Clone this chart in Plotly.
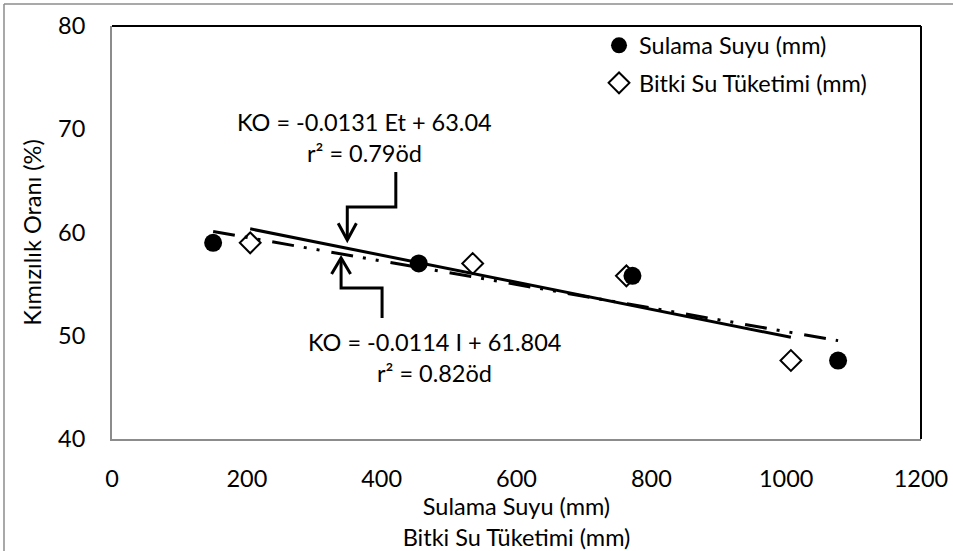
import plotly.graph_objects as go

# ---- data ----
sulama_x = [150, 455, 772, 1077]
sulama_y = [59.0, 57.0, 55.8, 47.6]
bitki_x = [205, 535, 763, 1007]
bitki_y = [59.0, 57.0, 55.8, 47.6]

# printed trend equations
sul_slope, sul_int = -0.0114, 61.804
bit_slope, bit_int = -0.0131, 63.04

x_ticks = [0, 200, 400, 600, 800, 1000, 1200]
y_ticks = [40, 50, 60, 70, 80]

FONT = "Lato"
FS = 23.5

fig = go.Figure()

# trend lines
sx = [min(sulama_x), max(sulama_x)]
fig.add_trace(go.Scatter(x=sx, y=[sul_slope * v + sul_int for v in sx], mode="lines",
                         line=dict(color="black", width=3, dash="22px,10px,3px,10px,3px,12px"),
                         showlegend=False, hoverinfo="skip"))
bx = [min(bitki_x), max(bitki_x)]
fig.add_trace(go.Scatter(x=bx, y=[bit_slope * v + bit_int for v in bx], mode="lines",
                         line=dict(color="black", width=3),
                         showlegend=False, hoverinfo="skip"))

fig.add_trace(go.Scatter(x=sulama_x, y=sulama_y, mode="markers", name="Sulama Suyu (mm)",
                         legendgroup="a",
                         marker=dict(symbol="circle", size=18, color="black")))
fig.add_trace(go.Scatter(x=bitki_x, y=bitki_y, mode="markers", name="Bitki Su Tüketimi (mm)",
                         legendgroup="b",
                         marker=dict(symbol="diamond-open", size=16, color="black",
                                     line=dict(width=2, color="black"))))

# annotations (text)
def txt(x, y, s):
    fig.add_annotation(x=x, y=y, xref="x", yref="y", text=s, showarrow=False,
                       font=dict(family=FONT, size=FS, color="black"),
                       xanchor="center", yanchor="middle")

txt(374, 70.7, "KO = -0.0131 Et + 63.04")
txt(374, 67.7, "r² = 0.79öd")
txt(478, 49.4, "KO = -0.0114 I + 61.804")
txt(478, 46.4, "r² = 0.82öd")

# elbow arrows
line_style = dict(color="black", width=3)
fig.add_shape(type="path", xref="x", yref="y",
              path="M 421,65.86 L 421,62.47 L 349,62.47 L 349,59.35", line=line_style)
fig.add_shape(type="path", xref="x", yref="y",
              path="M 335.5,60.9 L 349,59.27 L 362.5,60.9", line=line_style)
fig.add_shape(type="path", xref="x", yref="y",
              path="M 400.6,51.72 L 400.6,54.62 L 339.8,54.62 L 339.8,57.45", line=line_style)
fig.add_shape(type="path", xref="x", yref="y",
              path="M 325.7,55.98 L 339.8,57.53 L 353.9,55.98", line=line_style)

# plot area top/right black border
fig.add_shape(type="line", xref="paper", yref="paper", x0=0, x1=1, y0=1, y1=1,
              line=dict(color="black", width=2))
fig.add_shape(type="line", xref="paper", yref="paper", x0=1, x1=1, y0=0, y1=1,
              line=dict(color="black", width=2))
# outer chart frame (left & top)
fig.add_shape(type="line", xref="paper", yref="paper", x0=-0.1335, x1=-0.1335, y0=-0.3, y1=1.0533,
              line=dict(color="#8c8c8c", width=1.5))
fig.add_shape(type="line", xref="paper", yref="paper", x0=-0.1335, x1=1.05, y0=1.0533, y1=1.0533,
              line=dict(color="#8c8c8c", width=1.5))

fig.update_layout(
    width=953, height=551,
    margin=dict(l=112, r=32, t=26, b=112),
    paper_bgcolor="white", plot_bgcolor="white",
    font=dict(family=FONT, size=FS, color="black"),
    legend=dict(x=0.602, y=1.006, xanchor="left", yanchor="top",
                font=dict(family=FONT, size=FS), tracegroupgap=4,
                bgcolor="rgba(0,0,0,0)"),
    xaxis=dict(range=[0, 1200], tickvals=x_ticks, showgrid=False, zeroline=False,
               showline=True, linecolor="#8c8c8c", linewidth=2, ticks="",
               ticklabelstandoff=18, automargin=False,
               title=dict(text="Sulama Suyu (mm)<br>Bitki Su Tüketimi (mm)", standoff=12,
                          font=dict(family=FONT, size=FS))),
    yaxis=dict(range=[40, 80], tickvals=y_ticks, showgrid=False, zeroline=False,
               showline=True, linecolor="#8c8c8c", linewidth=2, ticks="",
               ticklabelstandoff=20, automargin=False,
               title=dict(text="Kımızılık Oranı (%)", standoff=10,
                          font=dict(family=FONT, size=FS))),
)

fig.write_html("out.html")
